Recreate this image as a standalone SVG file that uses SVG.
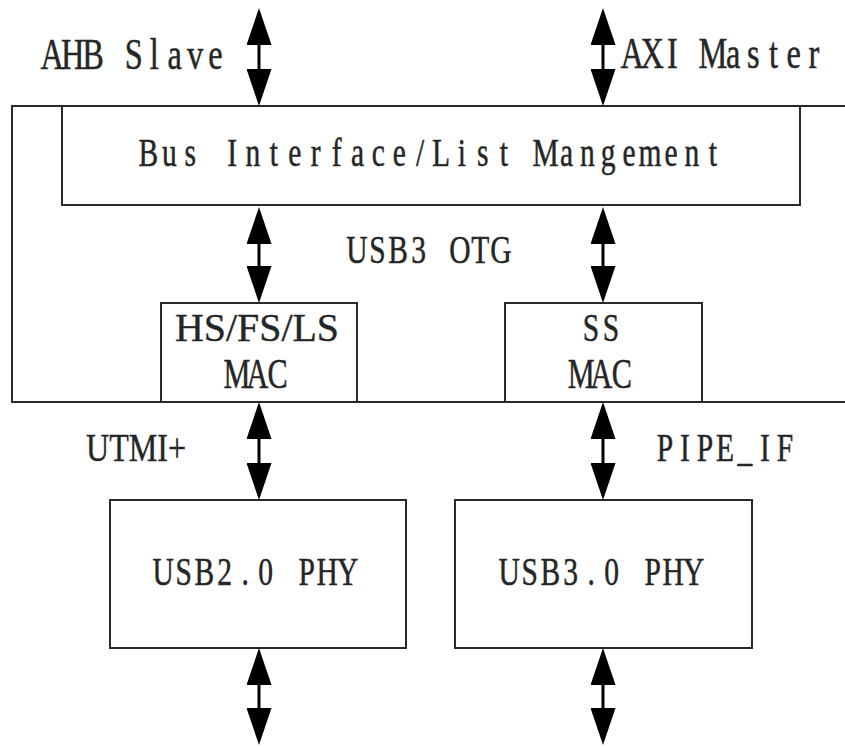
<svg xmlns="http://www.w3.org/2000/svg" width="845" height="747" viewBox="0 0 845 747">
<style>
.box{fill:#fff;stroke:#2a2a2a;stroke-width:2}
.frame{fill:none;stroke:#2a2a2a;stroke-width:2}
.t{font-family:"Liberation Serif","Times New Roman",serif;font-size:41px;fill:#262626;stroke:#262626;stroke-width:0.5;text-anchor:middle}
.p{text-anchor:start;stroke-width:0.4}
.top{font-size:45px}
.mac{font-size:42px}
.arr{stroke:#000;stroke-width:3;marker-start:url(#ah);marker-end:url(#ah)}
</style>
<defs>
<marker id="ah" markerUnits="userSpaceOnUse" viewBox="0 0 37 25" markerWidth="37" markerHeight="25" refX="7" refY="12.5" orient="auto-start-reverse">
<path d="M0,0 L37,12.5 L0,25 Z" fill="#000"/>
</marker>
</defs>
<rect width="845" height="747" fill="#fff"/>
<g id="usb3-otg">
<path class="frame" d="M845,106 H12 V402 H845"/>
<text class="t" transform="scale(0.72 1)" y="263" x="495.56 524.17 552.78 581.39 610.00 638.61 667.22 695.83">USB3 OTG</text>
</g>
<g id="bus-interface">
<rect class="box" x="62" y="106" width="738" height="99"/>
<text class="t" transform="scale(0.72 1)" y="166" x="206.18 235.21 264.24 293.26 322.29 351.32 380.35 409.38 438.40 467.43 496.46 525.49 554.51 583.54 612.57 641.60 670.63 699.65 728.68 757.71 786.74 815.76 844.79 873.82 902.85 931.88 960.90 989.93">Bus Interface/List Mangement</text>
</g>
<g id="hs-mac">
<rect class="box" x="161" y="303" width="196" height="99"/>
<text class="t p" x="175" y="341" textLength="164" lengthAdjust="spacingAndGlyphs">HS/FS/LS</text>
<text class="t mac" transform="scale(0.72 1)" y="388" x="329.17 357.36 385.56">MAC</text>
</g>
<g id="ss-mac">
<rect class="box" x="505" y="303" width="197" height="99"/>
<text class="t" transform="scale(0.72 1)" y="341" x="820.83 848.61">SS</text>
<text class="t mac" transform="scale(0.72 1)" y="388" x="807.22 835.42 863.61">MAC</text>
</g>
<g id="usb2-phy">
<rect class="box" x="110" y="500" width="296" height="148"/>
<text class="t" transform="scale(0.72 1)" y="585" x="226.74 255.21 283.68 312.15 340.63 369.10 397.57 426.04 454.51 482.99">USB2.0 PHY</text>
</g>
<g id="usb3-phy">
<rect class="box" x="455" y="500" width="297" height="148"/>
<text class="t" transform="scale(0.72 1)" y="585" x="707.29 735.76 764.24 792.71 821.18 849.65 878.13 906.60 935.07 963.54">USB3.0 PHY</text>
</g>
<g id="labels">
<text class="t top" transform="scale(0.72 1)" y="69" x="72.50 100.83 129.17 157.50 185.83 214.17 242.50 270.83 299.17">AHB Slave</text>
<text class="t top" transform="scale(0.72 1)" y="68" x="877.92 905.97 934.03 962.08 990.14 1018.19 1046.25 1074.31 1102.36 1130.42">AXI Master</text>
<text class="t p" x="86" y="461" textLength="100" lengthAdjust="spacingAndGlyphs">UTMI+</text>
<text class="t" transform="scale(0.72 1)" y="461" x="923.61 951.39 979.17 1006.94 1034.72 1062.50 1090.28">PIPE_IF</text>
</g>
<g id="connectors">
<line class="arr" x1="259" y1="38" x2="259" y2="76"/>
<line class="arr" x1="603" y1="38" x2="603" y2="76"/>
<line class="arr" x1="259" y1="237" x2="259" y2="273"/>
<line class="arr" x1="603" y1="237" x2="603" y2="273"/>
<line class="arr" x1="259" y1="432" x2="259" y2="470"/>
<line class="arr" x1="603" y1="432" x2="603" y2="470"/>
<line class="arr" x1="259" y1="678" x2="259" y2="715"/>
<line class="arr" x1="603" y1="678" x2="603" y2="715"/>
</g>
</svg>
